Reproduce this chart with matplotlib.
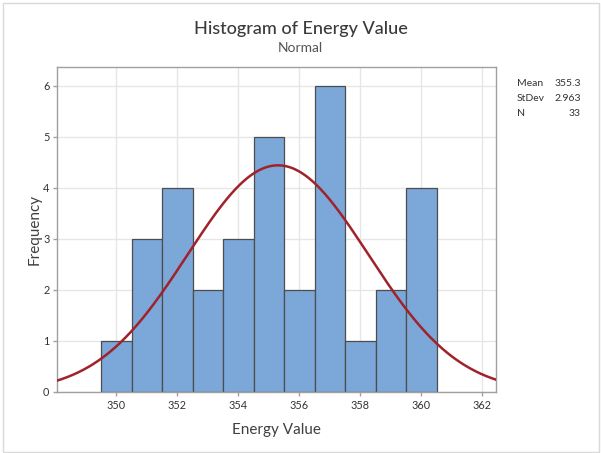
import numpy as np
import matplotlib
matplotlib.use("Agg")
import matplotlib.pyplot as plt
from matplotlib.patches import Rectangle

plt.rcParams['font.family'] = ['Lato', 'DejaVu Sans']

bin_centers = [350, 351, 352, 353, 354, 355, 356, 357, 358, 359, 360]
counts = [1, 3, 4, 2, 3, 5, 2, 6, 1, 2, 4]
mean = 355.3
stdev = 2.963
n = 33
bin_width = 1.0
x_ticks = [350, 352, 354, 356, 358, 360, 362]
y_ticks = [0, 1, 2, 3, 4, 5, 6]

fig = plt.figure(figsize=(6.01, 4.53), dpi=100)
fig.patches.append(Rectangle((3/601, 1/453), 596/601, 449/453, transform=fig.transFigure,
                             fill=False, edgecolor='#d9d9d9', linewidth=1.0))
ax = fig.add_axes([57/601, 61/453, 439/601, 325/453])

ax.bar(bin_centers, counts, width=bin_width, color='#7BA7D9', edgecolor='#4d4d4d',
       linewidth=0.9, zorder=2)
xs = np.linspace(348.0, 362.5, 400)
pdf = n * bin_width / (stdev * np.sqrt(2 * np.pi)) * np.exp(-0.5 * ((xs - mean) / stdev) ** 2)
ax.plot(xs, pdf, color='#A0222A', linewidth=1.8, zorder=3)

ax.set_xlim(348.05, 362.45)
ax.set_ylim(0, 6.37)
ax.set_xticks(x_ticks)
ax.set_yticks(y_ticks)
ax.grid(True, color='#e6e6e6', linewidth=1.0, zorder=0)
ax.set_axisbelow(True)
for s in ax.spines.values():
    s.set_color('#a0a0a0')
    s.set_linewidth(1.0)
ax.tick_params(colors='#a0a0a0', labelcolor='#333333', labelsize=7.8, length=3, width=1, pad=2.5)
ax.set_xlabel('Energy Value', fontsize=11, color='#404040', labelpad=9)
ax.set_ylabel('Frequency', fontsize=11, color='#404040', labelpad=1)

fig.text(0.5, 1 - 34 / 453, 'Histogram of Energy Value', ha='center', va='baseline',
         fontsize=13, color='#3a3a3a', fontweight='medium')
fig.text(0.5, 1 - 52 / 453, 'Normal', ha='center', va='baseline',
         fontsize=10, color='#555555')

labels = ['Mean', 'StDev', 'N']
values = [f'{mean:.1f}', f'{stdev:.3f}', f'{n}']
for i, (lab, val) in enumerate(zip(labels, values)):
    y = 1 - (83 + 15.5 * i) / 453
    fig.text(517 / 601, y, lab, ha='left', va='center', fontsize=7.5, color='#333333')
    fig.text(581 / 601, y, val, ha='right', va='center', fontsize=7.5, color='#333333')

fig.savefig('out.png', dpi=100)
